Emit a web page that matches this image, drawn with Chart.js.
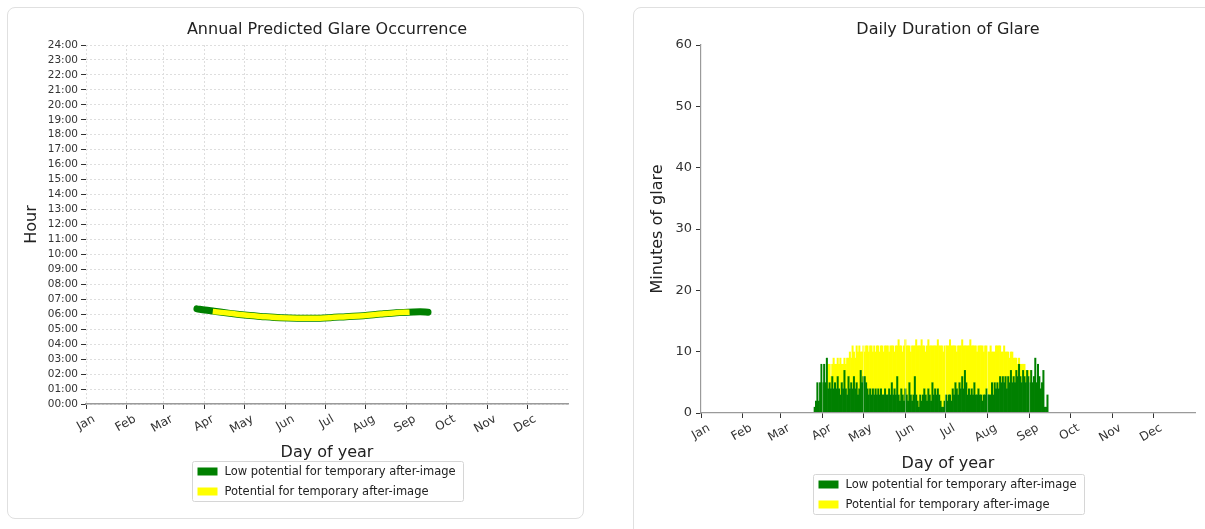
<!DOCTYPE html>
<html>
<head>
<meta charset="utf-8">
<script src="https://cdn.jsdelivr.net/npm/chart.js@4.4.0/dist/chart.umd.min.js"></script>
<style>
  html, body { margin: 0; padding: 0; background: #fff; width: 1205px; height: 529px; overflow: hidden; }
  .card { position: absolute; border: 1px solid #e0e0e0; border-radius: 8px; background: #fff; box-sizing: border-box; }
  #card-left { left: 7px; top: 7px; width: 577px; height: 512px; }
  #card-right { left: 633px; top: 7px; width: 600px; height: 540px; }
  canvas { position: absolute; top: 0; }
  #occ { left: 0; }
  #dur { left: 600px; }
</style>
</head>
<body>
<div class="card" id="card-left"></div>
<div class="card" id="card-right"></div>
<canvas id="occ" width="600" height="529"></canvas>
<canvas id="dur" width="605" height="529"></canvas>
<script>
const FONT = '"DejaVu Sans", sans-serif';

// month ticks (day of year)
const monthStarts = [0, 31, 59, 90, 120, 151, 181, 212, 243, 273, 304, 334];
const monthNames = ['Jan', 'Feb', 'Mar', 'Apr', 'May', 'Jun', 'Jul', 'Aug', 'Sep', 'Oct', 'Nov', 'Dec'];

const hourTicks = [0, 1, 2, 3, 4, 5, 6, 7, 8, 9, 10, 11, 12, 13, 14, 15, 16, 17, 18, 19, 20, 21, 22, 23, 24];
const hourLabels = ['00:00', '01:00', '02:00', '03:00', '04:00', '05:00', '06:00', '07:00', '08:00', '09:00',
  '10:00', '11:00', '12:00', '13:00', '14:00', '15:00', '16:00', '17:00', '18:00', '19:00',
  '20:00', '21:00', '22:00', '23:00', '24:00'];

const minuteTicks = [0, 10, 20, 30, 40, 50, 60];

const seriesLabels = ['Low potential for temporary after-image', 'Potential for temporary after-image'];
const seriesColors = ['#008000', '#ffff00'];

// glare occurrence band (day of year -> hour of day)
const lowDays  = [84, 90, 97, 109, 122, 134, 147, 160, 172, 185, 197, 210, 223, 235, 248, 253, 259];
const lowHours = [6.36, 6.28, 6.20, 6.06, 5.93, 5.84, 5.76, 5.73, 5.73, 5.77, 5.84, 5.90, 6.01, 6.10, 6.15, 6.16, 6.14];
const potDays  = [96, 109, 122, 134, 147, 160, 172, 185, 197, 210, 223, 235, 245];
const potHours = [6.19, 6.06, 5.93, 5.84, 5.76, 5.73, 5.73, 5.77, 5.84, 5.90, 6.01, 6.10, 6.14];

// daily minutes of glare, one value per day starting at day 84
const durationStartDay = 84;
const lowMinutes = [
  1, 2, 5, 2, 5, 8, 5, 8, 5, 9, 4, 5,
  4, 6, 4, 5, 4, 6, 4, 3, 5, 4, 7, 4, 3, 6, 4,
  5, 4, 6, 4, 5, 3, 4, 7, 5, 6, 6, 5, 4, 3, 4, 3, 4,
  3, 4, 3, 4, 3, 4, 3, 3, 4, 3, 3, 4, 3, 5, 3, 4, 3, 6, 3, 2,
  4, 3, 2, 4, 3, 2, 5, 3, 2, 3, 6, 3, 2, 1, 3, 2, 3, 4, 3, 2, 4, 3, 2, 5, 3,
  4, 3, 4, 3, 2, 1, 1, 2, 3, 2, 3, 3, 2, 4, 3, 5, 4, 3, 5, 4,
  6, 4, 7, 5, 3, 4, 3, 4, 3, 5, 3, 3, 4, 3, 3, 2, 3, 3, 4, 3, 3, 3, 5, 3, 5, 4,
  5, 4, 6, 5, 6, 5, 6, 4, 6, 5, 7, 5, 6, 5, 7, 6, 8, 6, 5, 7,
  6, 5, 7, 6, 5, 7, 5, 6, 9, 5, 8, 6, 4, 5, 7, 1, 1, 3
];
const potMinutes = [
  0, 0, 0, 0, 0, 0, 0, 0, 0, 0, 4, 3,
  2, 2, 5, 3, 4, 3, 4, 6, 3, 4, 2, 4, 6, 3, 6,
  4, 7, 4, 5, 6, 7, 7, 3, 5, 5, 4, 6, 7, 7, 7, 8, 6,
  8, 6, 8, 7, 7, 7, 8, 7, 7, 8, 8, 6, 8, 6, 8, 6, 8, 5, 9, 9,
  7, 7, 9, 8, 8, 9, 6, 7, 9, 8, 5, 9, 9, 10, 8, 10, 8, 7, 7, 9, 8, 8, 9, 6, 8,
  7, 8, 8, 8, 9, 10, 9, 9, 8, 9, 8, 9, 9, 7, 8, 6, 6, 8, 6, 7,
  6, 7, 4, 6, 8, 7, 9, 7, 8, 6, 8, 7, 7, 8, 8, 9, 7, 8, 7, 7, 7, 8, 5, 7, 5, 7,
  6, 7, 5, 5, 4, 6, 4, 6, 4, 4, 3, 5, 3, 4, 2, 2, 1, 2, 3, 1,
  2, 2, 0, 1, 2, 0, 0, 0, 0, 0, 0, 0, 0, 0, 0, 0, 0, 0
];

// title centred over the plot area, like the original figures
const axesTitle = {
  id: 'axesTitle',
  afterDraw(chart, args, opts) {
    const { ctx, chartArea } = chart;
    ctx.save();
    ctx.font = '16px ' + FONT;
    ctx.fillStyle = '#222';
    ctx.textAlign = 'center';
    ctx.textBaseline = 'middle';
    ctx.fillText(opts.text, (chartArea.left + chartArea.right) / 2, opts.y);
    ctx.restore();
  }
};

// boxed two-row legend under the x axis title
const boxLegend = {
  id: 'boxLegend',
  afterDraw(chart, args, opts) {
    const { ctx, chartArea } = chart;
    ctx.save();
    ctx.font = '11.5px ' + FONT;
    const textW = Math.max(...seriesLabels.map(t => ctx.measureText(t).width));
    const w = Math.round(5 + 20 + 7 + textW + 8);
    const h = 40;
    const left = Math.round((chartArea.left + chartArea.right) / 2 - w / 2) + 0.5;
    const top = Math.round(chartArea.bottom + opts.offset) + 0.5;
    ctx.fillStyle = 'rgba(255,255,255,0.9)';
    ctx.strokeStyle = '#d6d6d6';
    ctx.lineWidth = 1;
    ctx.beginPath();
    ctx.roundRect(left, top, w, h, 2);
    ctx.fill();
    ctx.stroke();
    seriesLabels.forEach((t, i) => {
      const cy = top + 10 + i * 20;
      ctx.fillStyle = seriesColors[i];
      ctx.fillRect(left + 5, cy - 4, 20, 8);
      ctx.fillStyle = '#222';
      ctx.textBaseline = 'middle';
      ctx.fillText(t, left + 32, cy + 1);
    });
    ctx.restore();
  }
};

function monthAxis(height, extra) {
  return Object.assign({
    type: 'linear', min: 0, max: 365, offset: false,
    afterBuildTicks: s => { s.ticks = monthStarts.map(v => ({ value: v })); },
    afterFit: s => { s.height = height; },
    ticks: {
      autoSkip: false, minRotation: 30, maxRotation: 30, labelOffset: 8, padding: 3,
      color: '#333', font: { family: FONT, size: 12 },
      callback: (v, i) => monthNames[i]
    },
    title: { display: true, text: 'Day of year', color: '#222', font: { family: FONT, size: 16 }, padding: 0 }
  }, extra);
}

// Annual Predicted Glare Occurrence
new Chart(document.getElementById('occ'), {
  type: 'line',
  data: {
    datasets: [
      {
        label: seriesLabels[1],
        data: potDays.map((d, i) => ({ x: d, y: potHours[i] })),
        borderColor: seriesColors[1], borderWidth: 5.5, pointRadius: 0,
        cubicInterpolationMode: 'monotone', order: 1
      },
      {
        label: seriesLabels[0],
        data: lowDays.map((d, i) => ({ x: d, y: lowHours[i] })),
        borderColor: seriesColors[0], borderWidth: 7, pointRadius: 0, borderCapStyle: 'round',
        cubicInterpolationMode: 'monotone', order: 2
      }
    ]
  },
  options: {
    responsive: false, animation: false,
    layout: { padding: { left: 0, right: 32, top: 45, bottom: 67 } },
    plugins: {
      legend: { display: false }, tooltip: { enabled: false },
      axesTitle: { text: 'Annual Predicted Glare Occurrence', y: 30 },
      boxLegend: { offset: 57 }
    },
    scales: {
      x: monthAxis(58, {
        grid: { color: '#dedede', tickColor: '#333', tickLength: 5, offset: false },
        border: { display: true, color: '#9a9a9a', width: 1.5, dash: [2, 2] }
      }),
      y: {
        min: 0, max: 24,
        afterBuildTicks: s => { s.ticks = hourTicks.map(v => ({ value: v })); },
        afterFit: s => { s.width = 86; },
        ticks: { autoSkip: false, padding: 3, color: '#333', font: { family: FONT, size: 10.5 }, callback: (v, i) => hourLabels[i] },
        grid: { color: '#dedede', tickColor: '#333', tickLength: 5 },
        border: { display: false, dash: [2, 2] },
        title: { display: true, text: 'Hour', color: '#222', font: { family: FONT, size: 16 }, padding: { top: 22, bottom: 0 } }
      }
    }
  },
  plugins: [axesTitle, boxLegend]
});

// Daily Duration of Glare
new Chart(document.getElementById('dur'), {
  type: 'bar',
  data: {
    datasets: [
      {
        label: seriesLabels[0],
        data: lowMinutes.map((v, i) => ({ x: durationStartDay + i, y: v })),
        backgroundColor: seriesColors[0], borderWidth: 0,
        barPercentage: 1.5, categoryPercentage: 1
      },
      {
        label: seriesLabels[1],
        data: potMinutes.map((v, i) => ({ x: durationStartDay + i, y: v })),
        backgroundColor: seriesColors[1], borderWidth: 0,
        barPercentage: 1.5, categoryPercentage: 1
      }
    ]
  },
  options: {
    responsive: false, animation: false,
    layout: { padding: { left: 0, right: 10, top: 45, bottom: 56 } },
    plugins: {
      legend: { display: false }, tooltip: { enabled: false },
      axesTitle: { text: 'Daily Duration of Glare', y: 30 },
      boxLegend: { offset: 61 }
    },
    scales: {
      x: monthAxis(60, {
        stacked: true,
        grid: { color: 'rgba(255,255,255,0.35)', z: 1, tickColor: '#333', tickLength: 5, offset: false },
        border: { display: true, color: '#9a9a9a', width: 1.3, z: 2 }
      }),
      y: {
        stacked: true, min: 0, max: 60,
        afterBuildTicks: s => { s.ticks = minuteTicks.map(v => ({ value: v })); },
        afterFit: s => { s.width = 101; },
        ticks: { autoSkip: false, padding: 4, color: '#333', font: { family: FONT, size: 13 } },
        grid: { drawOnChartArea: false, tickColor: '#333', tickLength: 5 },
        border: { display: true, color: '#9a9a9a', width: 1.3 },
        title: { display: true, text: 'Minutes of glare', color: '#222', font: { family: FONT, size: 16 }, padding: { top: 48, bottom: 0 } }
      }
    }
  },
  plugins: [axesTitle, boxLegend]
});
</script>
</body>
</html>
